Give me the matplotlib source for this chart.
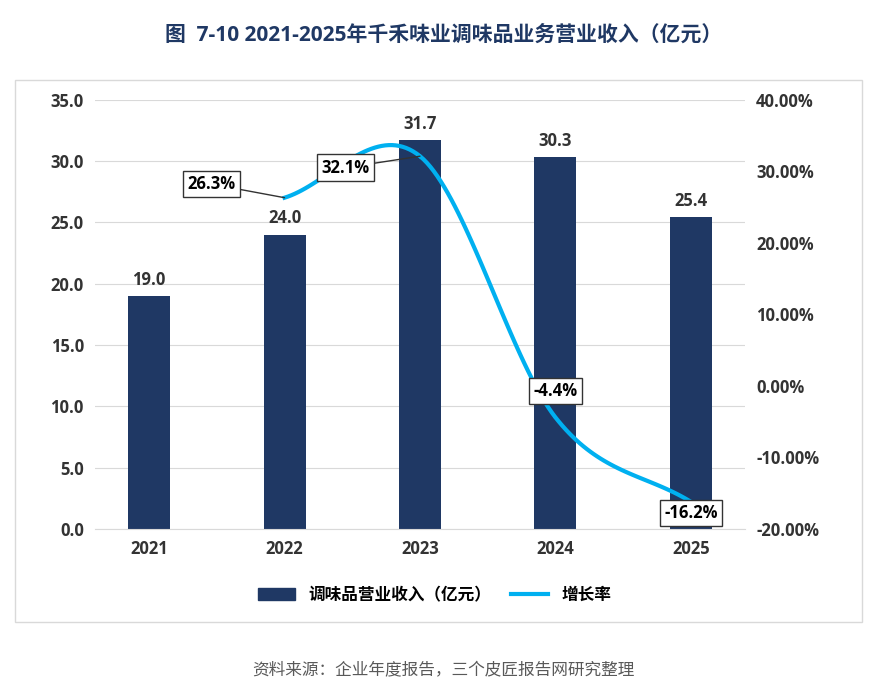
import matplotlib.pyplot as plt
from matplotlib.patches import Rectangle
import numpy as np

plt.rcParams['font.family'] = ['Open Sans', 'Noto Sans CJK SC', 'DejaVu Sans']

years = ['2021', '2022', '2023', '2024', '2025']
revenue = [19.0, 24.0, 31.7, 30.3, 25.4]
growth_years = [1, 2, 3, 4]
growth = [26.3, 32.1, -4.4, -16.2]


def catmull(xs, ys, n=40):
    xs = np.array(xs, float); ys = np.array(ys, float)
    px = np.concatenate([[2 * xs[0] - xs[1]], xs, [2 * xs[-1] - xs[-2]]])
    py = np.concatenate([[2 * ys[0] - ys[1]], ys, [2 * ys[-1] - ys[-2]]])
    ox, oy = [], []
    for i in range(1, len(px) - 2):
        t = np.linspace(0, 1, n)
        for p, o in ((px, ox), (py, oy)):
            p0, p1, p2, p3 = p[i - 1], p[i], p[i + 1], p[i + 2]
            o.extend(0.5 * (2 * p1 + (-p0 + p2) * t + (2 * p0 - 5 * p1 + 4 * p2 - p3) * t ** 2
                            + (-p0 + 3 * p1 - 3 * p2 + p3) * t ** 3))
    return ox, oy


fig = plt.figure(figsize=(8.87, 6.97), dpi=100)
fig.patches.append(Rectangle((15 / 887, 1 - 622 / 697), 847 / 887, 542 / 697,
                             transform=fig.transFigure, fill=False, ec='#d9d9d9', lw=1))
ax = fig.add_axes([0.107, 0.241, 0.733, 0.616])
x = np.arange(len(years))
ax.bar(x, revenue, width=0.31, color='#1f3864', zorder=2)
for xi, v in zip(x, revenue):
    ax.text(xi, v + 0.6, f'{v:.1f}', ha='center', va='bottom', fontsize=12, fontweight='bold', color='#333333')
ax.set_ylim(0, 35)
ax.set_yticks(np.arange(0, 36, 5))
ax.set_yticklabels([f'{v:.1f}' for v in np.arange(0, 36, 5)])
ax.set_xlim(-0.4, 4.4)
ax.set_xticks(x)
ax.set_xticklabels(years)
ax.grid(axis='y', color='#d9d9d9', lw=0.8, zorder=0)
for s in ax.spines.values():
    s.set_visible(False)
ax.spines['bottom'].set_visible(True)
ax.spines['bottom'].set_color('#d9d9d9')
ax.tick_params(length=0, labelsize=12, colors='#333333', pad=8)
for lab in ax.get_xticklabels() + ax.get_yticklabels():
    lab.set_fontweight('bold')

ax2 = ax.twinx()
ax2.set_ylim(-20, 40)
ax2.set_yticks(np.arange(-20, 41, 10))
ax2.set_yticklabels([f'{v:.2f}%' for v in np.arange(-20, 41, 10)])
for s in ax2.spines.values():
    s.set_visible(False)
ax2.tick_params(length=0, labelsize=12, colors='#333333', pad=8)
for lab in ax2.get_yticklabels():
    lab.set_fontweight('bold')
cx, cy = catmull(growth_years, growth)
ax2.plot(cx, cy, color='#00b0f0', lw=3, zorder=3)

box = dict(boxstyle='square,pad=0.25', fc='white', ec='#333333', lw=1)
ax2.annotate('26.3%', xy=(1, 26.3), xytext=(0.46, 28.2), fontsize=12, fontweight='bold', ha='center', va='center',
             bbox=box, arrowprops=dict(arrowstyle='-', color='#333333', lw=1, shrinkA=0, shrinkB=0))
ax2.annotate('32.1%', xy=(2, 32.1), xytext=(1.45, 30.5), fontsize=12, fontweight='bold', ha='center', va='center',
             bbox=box, arrowprops=dict(arrowstyle='-', color='#333333', lw=1, shrinkA=0, shrinkB=0))
ax2.text(3, -0.7, '-4.4%', fontsize=12, fontweight='bold', ha='center', va='center', bbox=box, zorder=5)
ax2.text(4, -17.8, '-16.2%', fontsize=12, fontweight='bold', ha='center', va='center', bbox=box, zorder=5)

fig.legend(handles=[Rectangle((0, 0), 1, 1, color='#1f3864'),
                    plt.Line2D([], [], color='#00b0f0', lw=3)],
           labels=['调味品营业收入（亿元）', '增长率'], loc='center', bbox_to_anchor=(0.49, 1 - 595 / 697),
           ncol=2, frameon=False, prop={'size': 12, 'weight': 'bold'}, handlelength=2.2, columnspacing=1.2)
fig.text(0.5, 1 - 35 / 697, '图  7-10 2021-2025年千禾味业调味品业务营业收入（亿元）', ha='center', va='center',
         fontsize=15, fontweight='bold', color='#1f3864')
fig.text(0.5, 1 - 671 / 697, '资料来源：企业年度报告，三个皮匠报告网研究整理', ha='center', va='center',
         fontsize=12, color='#595959')
fig.savefig('out.png', dpi=100)
